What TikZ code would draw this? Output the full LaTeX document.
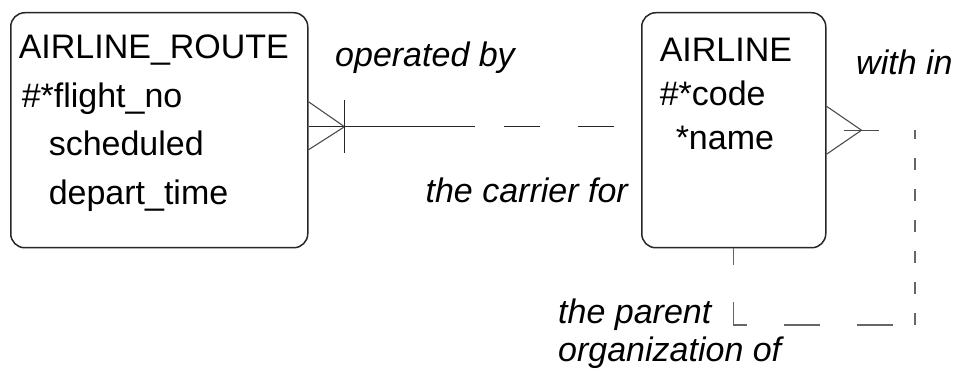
\documentclass[tikz,border=0pt]{standalone}
\usepackage{fontspec}
\setmainfont{Liberation Sans}

\tikzset{
  entity/.style={draw=black!85, line width=1.5pt, rounded corners=14pt, anchor=north west,
    align=left, inner ysep=0pt, font=\fontsize{34}{48.5}\selectfont},
  role/.style={inner sep=0pt, align=left, font=\fontsize{34}{38}\selectfont\itshape},
  link/.style={line width=1.5pt, black!85},
  foot/.style={line width=1.1pt, black!70},
  optline/.style={line width=1.1pt, black!60}
}

\begin{document}
\begin{tikzpicture}[x=1pt, y=1pt]
  \useasboundingbox (0,0) rectangle (957,387);
  % entities
  \node [entity, inner xsep=8pt, text width=281pt, text height=46pt, text depth=189pt] (route) at (10,375)
    {AIRLINE\_ROUTE\\\hspace*{3pt}\#*flight\_no\\\hspace*{30pt}scheduled\\\hspace*{30pt}depart\_time};
  \node [entity, inner xsep=18pt, text width=148pt, text height=49pt, text depth=186pt,
    font=\fontsize{34}{44}\selectfont] (airline) at (641,375)
    {AIRLINE\\\#*code\\\hspace*{16pt}*name};

  % route -- airline, solid half then dashed half
  \path ([yshift=3.5pt]route.east) coordinate (r1) -- coordinate (m1) ([yshift=3.5pt]airline.west) coordinate (a1);
  \draw [link] (r1) -- (m1);
  \draw [link, dash pattern=on 36pt off 38pt, dash phase=45pt] (m1) -- (a1);
  \draw [foot] ([yshift=25pt]r1) -- ([xshift=36pt]r1) -- ([yshift=-23pt]r1);
  \draw [link] ([xshift=36pt,yshift=27pt]r1) -- ([xshift=36pt,yshift=-26pt]r1);

  % airline -- airline (pig's ear)
  \coordinate (c1) at (915,62);
  \draw [foot] ([yshift=24pt]airline.east) -- ([xshift=35pt]airline.east) -- ([yshift=-24pt]airline.east);
  \draw [foot] ([xshift=17pt]airline.east) -- ([xshift=52pt]airline.east);
  \draw [optline, dash pattern=on 12pt off 19pt] (c1) -- (c1 |- airline.east);
  \draw [optline, dash pattern=on 36pt off 37pt, dash phase=19pt] (airline.south) |- (c1);

  % role names
  \node [role, anchor=base west] (opby) at (335,320) {operated by};
  \node [role, anchor=base east] (carrier) at (628,184) {the carrier for};
  \node [role, anchor=base west] (within) at (856,312) {with in};
  \node [role, anchor=base west] (parent) at (558,25) {the parent\\organization of};
\end{tikzpicture}
\end{document}
